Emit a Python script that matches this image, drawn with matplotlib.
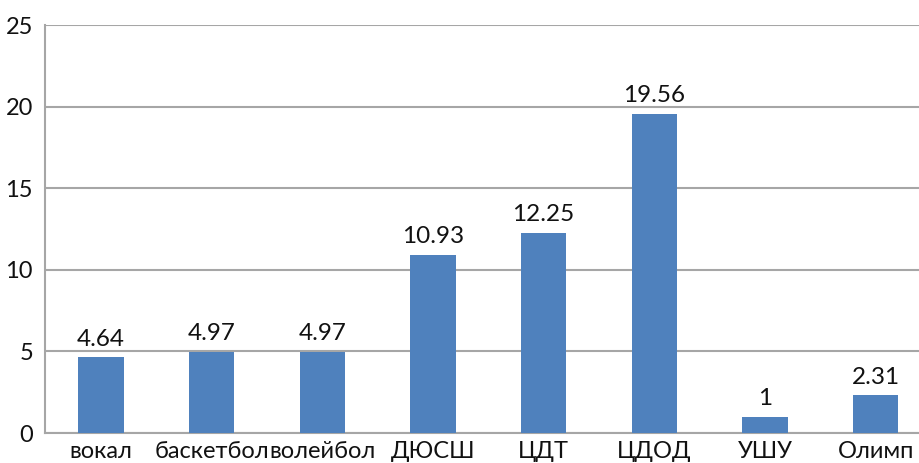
import matplotlib
matplotlib.use("Agg")
import matplotlib.pyplot as plt

categories = ["вокал", "баскетбол", "волейбол", "ДЮСШ", "ЦДТ", "ЦДОД", "УШУ", "Олимп"]
values = [4.64, 4.97, 4.97, 10.93, 12.25, 19.56, 1, 2.31]
labels = ["4.64", "4.97", "4.97", "10.93", "12.25", "19.56", "1", "2.31"]

plt.rcParams['font.family'] = ['Lato', 'DejaVu Sans']
fig = plt.figure(figsize=(9.2, 4.63), dpi=100)
W, H = 920, 463
left, right, top, bottom = 45.5, 931, 25, 433
ax = fig.add_axes([left / W, (H - bottom) / H, (right - left) / W, (bottom - top) / H])

x = list(range(len(categories)))
ax.bar(x, values, width=0.41, color="#4f81bd", zorder=3)
for xi, v, lab in zip(x, values, labels):
    ax.annotate(lab, (xi, v), xytext=(0, 5.5), textcoords="offset points",
                ha="center", va="bottom", fontsize=17.5, color="#111111")

ax.set_xlim(-0.5, len(categories) - 0.5)
ax.set_ylim(0, 25)
ax.set_yticks([0, 5, 10, 15, 20, 25])
ax.set_xticks(x)
ax.set_xticklabels(categories)
ax.tick_params(axis="both", length=0, labelsize=17, colors="#111111")
ax.tick_params(axis="y", pad=9)
ax.tick_params(axis="x", pad=6)
ax.yaxis.grid(True, color="#a6a6a6", linewidth=1.5, zorder=0)
for s in ["top", "right"]:
    ax.spines[s].set_visible(False)
ax.spines["left"].set_color("#a6a6a6")
ax.spines["left"].set_linewidth(1.5)
ax.spines["bottom"].set_color("#a6a6a6")
ax.spines["bottom"].set_linewidth(1.5)

fig.savefig("out.png", dpi=100)
